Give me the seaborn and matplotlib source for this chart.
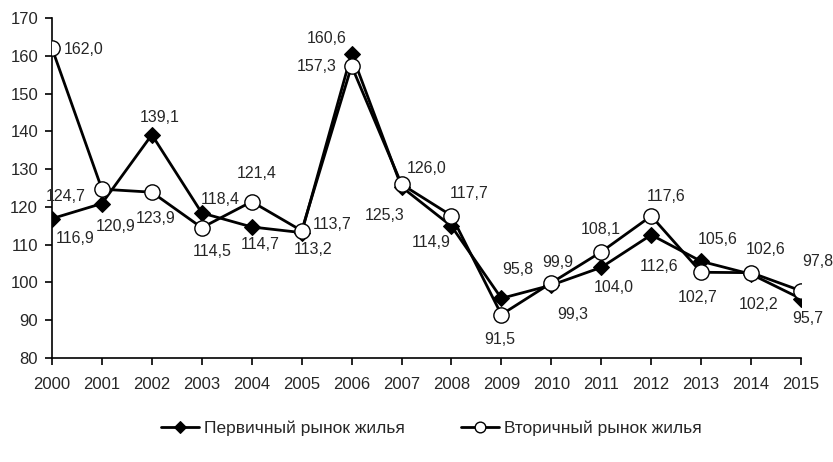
import pandas as pd
import seaborn as sns
import matplotlib.pyplot as plt
from matplotlib import font_manager

years = list(range(2000, 2016))
primary = [116.9, 120.9, 139.1, 118.4, 114.7, 113.2, 160.6, 125.3,
           114.9, 95.8, 99.3, 104.0, 112.6, 105.6, 102.2, 95.7]
secondary = [162.0, 124.7, 123.9, 114.5, 121.4, 113.7, 157.3, 126.0,
             117.7, 91.5, 99.9, 108.1, 117.6, 102.7, 102.6, 97.8]
names = ["Первичный рынок жилья", "Вторичный рынок жилья"]

# label offsets in pixels (dx, dy up) so the numbers sit like in the source
primary_off = [(23, -20), (14, -23), (8, 17), (18, 13), (8, -18), (11, -17),
               (-25, 15), (-17, -29), (-20, -16), (16, 29), (21, -29),
               (12, -20), (8, -32), (17, 22), (7, -30), (7, -20)]
secondary_off = [(32, -1), (-36, -7), (4, -26), (10, -24), (5, 28), (30, 6),
                 (-35, 0), (25, 16), (18, 22), (-2, -25), (6, 20), (-1, 22),
                 (15, 19), (-4, -25), (15, 23), (17, 29)]


def pick_font(options):
    have = {f.name for f in font_manager.fontManager.ttflist}
    for name in options:
        if name in have:
            return name
    return "DejaVu Sans"


def main():
    sns.set_style("ticks")
    main_font = pick_font(["Liberation Sans", "Arial", "DejaVu Sans"])
    narrow_font = pick_font(["Liberation Sans Narrow", main_font])
    plt.rcParams["font.family"] = [main_font, "DejaVu Sans"]

    df = pd.DataFrame({"year": years, "primary": primary,
                       "secondary": secondary})

    fig = plt.figure(figsize=(8.33, 4.62), dpi=100)
    ax = fig.add_axes([0.0624, 0.225, 0.8992, 0.736])

    sns.lineplot(data=df, x="year", y="primary", ax=ax, color="black",
                 lw=2.0, marker="D", markersize=8.5, markeredgecolor="black",
                 markerfacecolor="black", label=names[0], zorder=3)
    sns.lineplot(data=df, x="year", y="secondary", ax=ax, color="black",
                 lw=2.0, marker="o", markersize=11, markeredgecolor="black",
                 markeredgewidth=1.0, markerfacecolor="white",
                 label=names[1], zorder=4)

    for x, v, (dx, dy) in zip(years, primary, primary_off):
        ax.annotate(f"{v:.1f}".replace(".", ","), (x, v), xytext=(dx, dy),
                    textcoords="offset pixels", ha="center", va="center",
                    fontsize=11.5, zorder=5)
    for x, v, (dx, dy) in zip(years, secondary, secondary_off):
        ax.annotate(f"{v:.1f}".replace(".", ","), (x, v), xytext=(dx, dy),
                    textcoords="offset pixels", ha="center", va="center",
                    fontsize=11.5, zorder=5)

    ax.set_xlim(2000, 2015)
    ax.set_ylim(80, 170)
    ax.set_xticks(years)
    ax.set_yticks(range(80, 171, 10))
    ax.set_xlabel("")
    ax.set_ylabel("")
    ax.tick_params(axis="x", labelsize=12, length=5, width=1.2, pad=9,
                   color="black")
    ax.tick_params(axis="y", labelsize=12, length=5, width=1.2, pad=5,
                   color="black")
    sns.despine(ax=ax)
    for side in ["left", "bottom"]:
        ax.spines[side].set_linewidth(1.2)
        ax.spines[side].set_color("black")
    for sp in ax.spines.values():
        sp.set_clip_on(False)

    handles, labels = ax.get_legend_handles_labels()
    ax.get_legend().remove()
    fig.legend(handles, labels, loc="center", bbox_to_anchor=(0.518, 0.072),
               ncol=2, frameon=False, handlelength=2.2, handletextpad=0.3,
               columnspacing=3.2, markerscale=0.7,
               prop={"family": [narrow_font, "DejaVu Sans"], "size": 12.5})

    fig.savefig("out.png", dpi=100)


if __name__ == "__main__":
    main()
